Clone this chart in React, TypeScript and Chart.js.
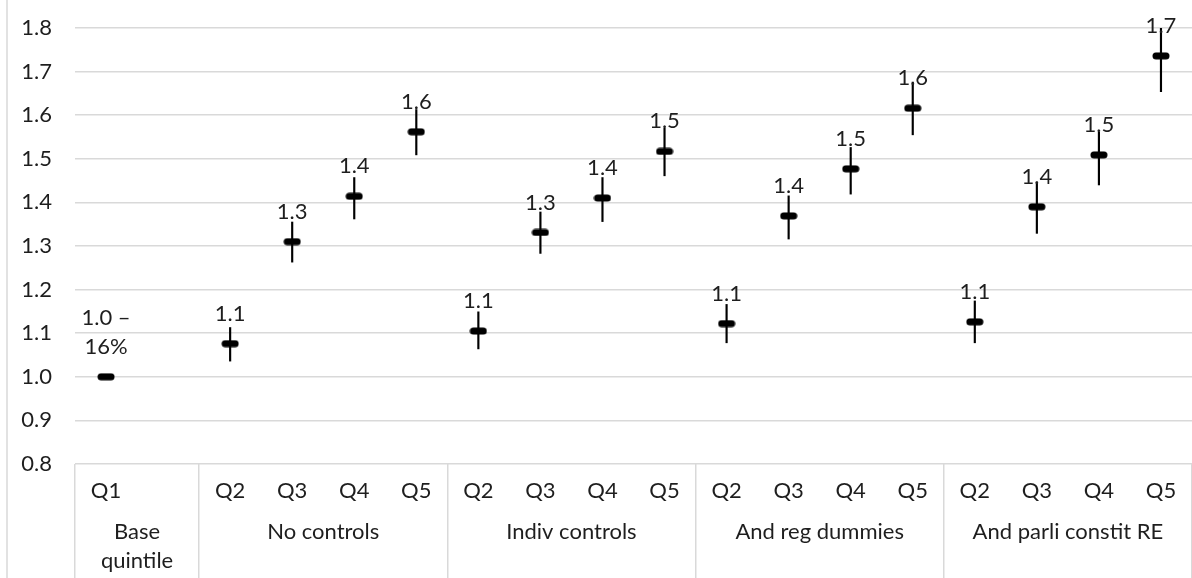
import React, { useEffect, useRef } from "react";
import { Chart, registerables } from "chart.js";

Chart.register(...registerables);

// ---- data ----
const categories = [
  "Q1", "",
  "Q2", "Q3", "Q4", "Q5",
  "Q2", "Q3", "Q4", "Q5",
  "Q2", "Q3", "Q4", "Q5",
  "Q2", "Q3", "Q4", "Q5",
];
const groupLabels: (string | string[])[] = [
  ["Base", "quintile"],
  "No controls",
  "Indiv controls",
  "And reg dummies",
  "And parli constit RE",
];
const groupSizes = [2, 4, 4, 4, 4];
const estimates: (number | null)[] = [
  1.0, null,
  1.076, 1.31, 1.414, 1.562,
  1.105, 1.331, 1.41, 1.517,
  1.122, 1.369, 1.477, 1.616,
  1.126, 1.39, 1.509, 1.736,
];
const lowerCI: (number | null)[] = [
  null, null,
  1.036, 1.263, 1.362, 1.509,
  1.064, 1.283, 1.356, 1.461,
  1.078, 1.316, 1.419, 1.555,
  1.078, 1.329, 1.44, 1.654,
];
const upperCI: (number | null)[] = [
  null, null,
  1.113, 1.355, 1.457, 1.613,
  1.149, 1.378, 1.457, 1.57,
  1.166, 1.415, 1.526, 1.676,
  1.174, 1.447, 1.561, 1.8,
];
const baseLabel = ["1.0 –", "16%"];
const yTicks = [0.8, 0.9, 1.0, 1.1, 1.2, 1.3, 1.4, 1.5, 1.6, 1.7, 1.8];

const FONT = "Lato, 'DejaVu Sans', sans-serif";
const TEXT = "#1e1e1e";
const GRID = "#d9d9d9";
const FONT_SIZE = 22;

export default function App() {
  const ref = useRef<HTMLCanvasElement>(null);

  useEffect(() => {
    const canvas = ref.current!;

    const marker = document.createElement("canvas");
    marker.width = 18;
    marker.height = 8;
    const mctx = marker.getContext("2d")!;
    mctx.fillStyle = "#000";
    mctx.beginPath();
    (mctx as any).roundRect(0.5, 0.5, 17, 7, 3.5);
    mctx.fill();

    // group-level axis: edges of the 18 category slots (19 positions, offset false)
    const nEdges = categories.length + 1;
    const groupAxisLabels: (string | string[])[] = new Array(nEdges).fill("");
    const sepIndex = new Set<number>([0]);
    let s = 0;
    groupSizes.forEach((n, g) => {
      groupAxisLabels[s + n / 2] = groupLabels[g];
      s += n;
      sepIndex.add(s);
    });

    const labelPlugin = {
      id: "pointLabels",
      afterDatasetsDraw(chart: any) {
        const meta = chart.getDatasetMeta(0);
        const ctx = chart.ctx;
        ctx.save();
        ctx.font = `${FONT_SIZE}px ${FONT}`;
        ctx.fillStyle = TEXT;
        ctx.textAlign = "center";
        ctx.textBaseline = "middle";
        meta.data.forEach((pt: any, i: number) => {
          const v = estimates[i];
          if (v == null) return;
          const lines = i === 0 ? baseLabel : [v.toFixed(1)];
          lines.forEach((t, j) => {
            ctx.fillText(t, pt.x, pt.y - 30 - (lines.length - 1 - j) * 29);
          });
        });
        ctx.restore();
      },
    };

    const framePlugin = {
      id: "frame",
      beforeDraw(chart: any) {
        const ctx = chart.ctx;
        ctx.save();
        ctx.strokeStyle = GRID;
        ctx.lineWidth = 1.5;
        ctx.beginPath();
        ctx.moveTo(7, 0);
        ctx.lineTo(7, chart.height);
        ctx.stroke();
        ctx.restore();
      },
    };

    const chart = new Chart(canvas, {
      type: "bar",
      data: {
        labels: categories,
        datasets: [
          {
            type: "line",
            label: "Estimate",
            data: estimates as any,
            showLine: false,
            pointStyle: marker as any,
            pointRadius: 9,
            borderColor: "#000",
            backgroundColor: "#000",
            order: 0,
          } as any,
          {
            type: "bar",
            label: "CI",
            data: lowerCI.map((l, i) => (l == null ? null : [l, upperCI[i]])) as any,
            backgroundColor: "#000",
            barThickness: 1.5,
            order: 1,
          } as any,
        ],
      },
      options: {
        animation: false,
        responsive: false,
        devicePixelRatio: 1,
        layout: { autoPadding: false, padding: { top: 28, left: 0, right: 0, bottom: 0 } },
        plugins: { legend: { display: false }, tooltip: { enabled: false } },
        scales: {
          x: {
            type: "category",
            offset: true,
            weight: 0,
            grid: { display: false, drawTicks: false },
            border: { display: false },
            ticks: {
              font: { family: FONT, size: FONT_SIZE },
              color: TEXT,
              padding: 14,
              autoSkip: false,
              maxRotation: 0,
            },
            afterFit: (sc: any) => {
              sc.height = 44;
              sc.paddingLeft = 0;
              sc.paddingRight = 0;
            },
          },
          xGroups: {
            type: "category",
            labels: groupAxisLabels as any,
            position: "bottom",
            offset: false,
            weight: 1,
            grid: { display: false, drawTicks: false, offset: false },
            border: { display: false },
            ticks: {
              font: { family: FONT, size: FONT_SIZE, lineHeight: 1.3 },
              color: TEXT,
              padding: 10,
              autoSkip: false,
              maxRotation: 0,
            },
            afterFit: (sc: any) => {
              sc.height = 70;
              sc.paddingLeft = 0;
              sc.paddingRight = 0;
            },
          },
          xSep: {
            type: "category",
            labels: new Array(nEdges).fill("") as any,
            position: "bottom",
            offset: false,
            weight: -1,
            ticks: { display: false, autoSkip: false },
            grid: {
              offset: false,
              drawOnChartArea: false,
              drawTicks: true,
              tickLength: 114,
              color: (c: any) => (sepIndex.has(c.index) ? GRID : "rgba(0,0,0,0)"),
              lineWidth: 1.5,
            },
            border: { display: false },
            afterFit: (sc: any) => {
              sc.height = 0;
              sc.paddingLeft = 0;
              sc.paddingRight = 0;
            },
          },
          y: {
            type: "linear",
            min: 0.8,
            max: 1.8,
            afterBuildTicks: (sc: any) => {
              sc.ticks = yTicks.map((v) => ({ value: v }));
            },
            ticks: {
              callback: (v: any) => Number(v).toFixed(1),
              font: { family: FONT, size: FONT_SIZE },
              color: TEXT,
              padding: 23,
            },
            grid: { color: GRID, lineWidth: 1.5, drawTicks: false },
            border: { display: false },
            afterFit: (sc: any) => {
              sc.width = 75;
              sc.paddingTop = 0;
              sc.paddingBottom = 0;
            },
          },
        } as any,
      },
      plugins: [labelPlugin, framePlugin],
    });

    return () => chart.destroy();
  }, []);

  return (
    <div style={{ position: "fixed", left: 0, top: 0, width: 1192, height: 578, background: "#fff" }}>
      <canvas ref={ref} width={1192} height={578} style={{ display: "block" }} />
    </div>
  );
}
